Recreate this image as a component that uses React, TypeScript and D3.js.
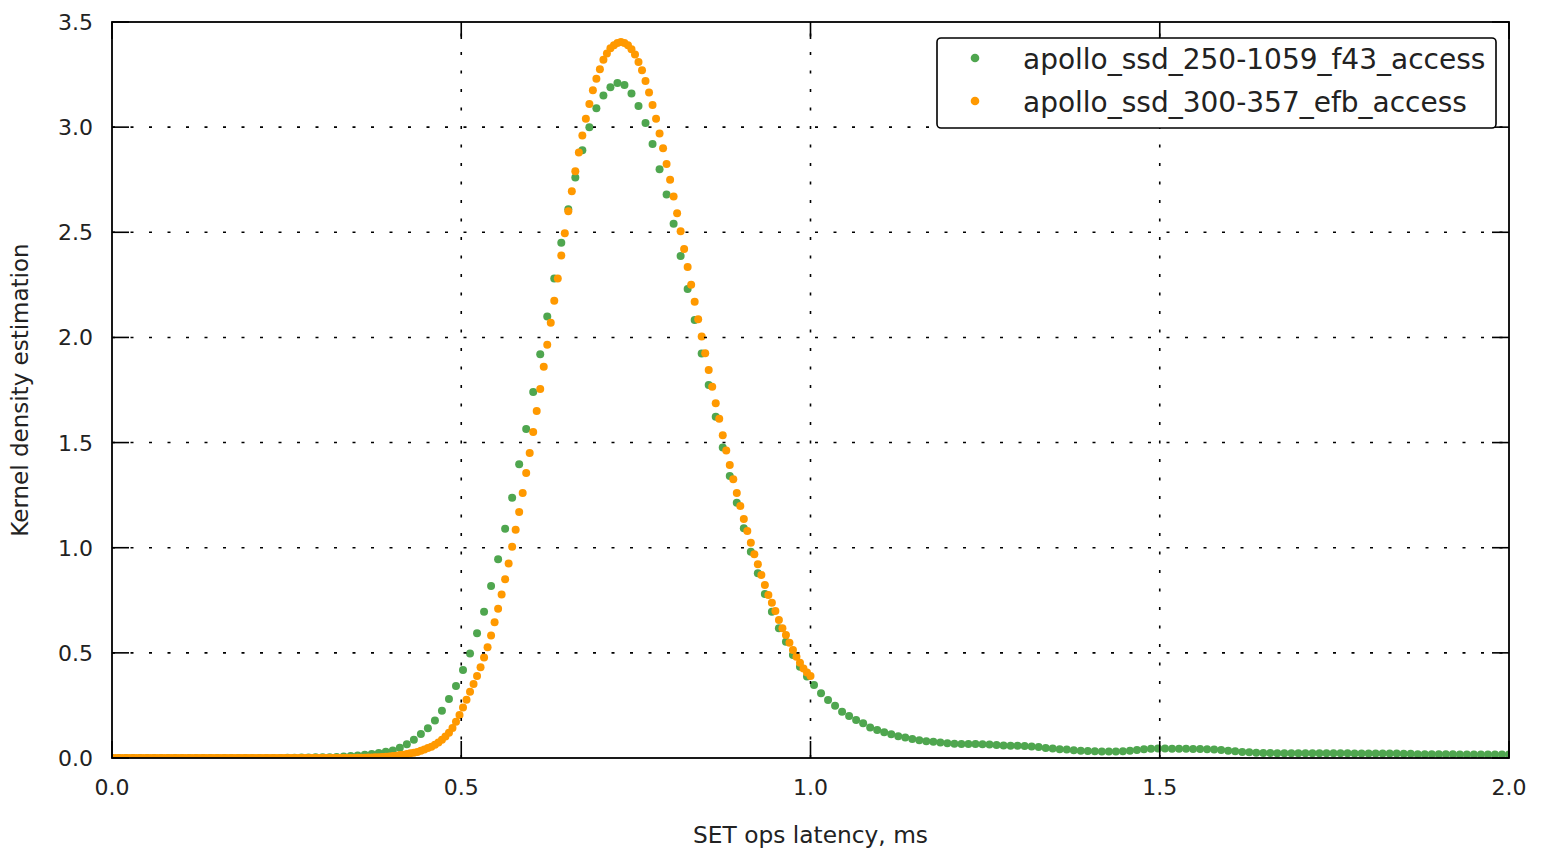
import React from "react";
import * as d3 from "d3";

// ---- data ----
const seriesNames = ["apollo_ssd_250-1059_f43_access", "apollo_ssd_300-357_efb_access"];
const seriesColors = ["#4fa64f", "#ff9900"];
// x grids: green on [0, 2.0], orange on [0, 1.0], 200 samples each
const greenXMax = 2.0;
const orangeXMax = 1.0;
const greenY = [
  0, 0, 0, 0, 0, 0, 0, 0, 0, 0,
  0, 0, 0, 0, 0, 0, 0, 0, 0, 0,
  0, 0, 0, 0, 0, 0.001, 0.001, 0.002, 0.002, 0.003,
  0.003, 0.004, 0.005, 0.007, 0.009, 0.012, 0.015, 0.019, 0.024, 0.03,
  0.036, 0.049, 0.065, 0.087, 0.114, 0.142, 0.178, 0.225, 0.28, 0.342,
  0.418, 0.497, 0.593, 0.696, 0.818, 0.945, 1.09, 1.238, 1.397, 1.565,
  1.74, 1.92, 2.1, 2.28, 2.45, 2.61, 2.76, 2.89, 3.0, 3.09,
  3.15, 3.19, 3.21, 3.2, 3.16, 3.1, 3.02, 2.92, 2.8, 2.68,
  2.54, 2.387, 2.23, 2.083, 1.924, 1.774, 1.623, 1.477, 1.341, 1.214,
  1.092, 0.981, 0.878, 0.78, 0.696, 0.617, 0.553, 0.49, 0.434, 0.387,
  0.347, 0.308, 0.276, 0.249, 0.22, 0.2, 0.181, 0.165, 0.145, 0.133,
  0.122, 0.113, 0.104, 0.097, 0.09, 0.084, 0.08, 0.077, 0.074, 0.07,
  0.068, 0.067, 0.066, 0.066, 0.065, 0.064, 0.062, 0.06, 0.058, 0.058,
  0.057, 0.055, 0.052, 0.048, 0.045, 0.042, 0.04, 0.037, 0.035, 0.033,
  0.032, 0.031, 0.031, 0.031, 0.032, 0.034, 0.038, 0.042, 0.044, 0.045,
  0.045, 0.044, 0.044, 0.044, 0.043, 0.043, 0.042, 0.041, 0.038, 0.035,
  0.032, 0.029, 0.027, 0.025, 0.024, 0.024, 0.023, 0.023, 0.023, 0.023,
  0.022, 0.022, 0.022, 0.022, 0.022, 0.022, 0.022, 0.021, 0.021, 0.021,
  0.021, 0.021, 0.021, 0.021, 0.02, 0.02, 0.018, 0.018, 0.018, 0.018,
  0.018, 0.018, 0.017, 0.017, 0.017, 0.017, 0.017, 0.017, 0.017, 0.017,
];
const orangeY = [
  0, 0, 0, 0, 0, 0, 0, 0, 0, 0,
  0, 0, 0, 0, 0, 0, 0, 0, 0, 0,
  0, 0, 0, 0, 0, 0, 0, 0, 0, 0,
  0, 0, 0, 0, 0, 0, 0, 0, 0, 0,
  0, 0, 0, 0, 0, 0, 0, 0, 0, 0,
  0, 0, 0, 0, 0, 0, 0, 0, 0, 0,
  0, 0, 0, 0, 0, 0, 0, 0, 0.0002, 0.0004,
  0.0006, 0.001, 0.0015, 0.002, 0.0025, 0.003, 0.004, 0.005, 0.006, 0.0075,
  0.009, 0.011, 0.014, 0.016, 0.019, 0.022, 0.025, 0.029, 0.034, 0.04,
  0.047, 0.054, 0.063, 0.074, 0.087, 0.102, 0.12, 0.143, 0.172, 0.205,
  0.24, 0.277, 0.315, 0.352, 0.39, 0.432, 0.478, 0.527, 0.582, 0.645,
  0.71, 0.778, 0.85, 0.925, 1.005, 1.085, 1.17, 1.26, 1.355, 1.45,
  1.55, 1.65, 1.755, 1.86, 1.965, 2.07, 2.175, 2.28, 2.39, 2.495,
  2.6, 2.695, 2.79, 2.88, 2.96, 3.04, 3.11, 3.175, 3.23, 3.275,
  3.32, 3.35, 3.375, 3.39, 3.4, 3.405, 3.4, 3.39, 3.37, 3.345,
  3.31, 3.27, 3.22, 3.165, 3.105, 3.04, 2.97, 2.9, 2.825, 2.75,
  2.67, 2.59, 2.505, 2.42, 2.335, 2.25, 2.17, 2.087, 2.004, 1.925,
  1.845, 1.766, 1.687, 1.613, 1.535, 1.462, 1.393, 1.325, 1.26, 1.198,
  1.136, 1.079, 1.024, 0.969, 0.921, 0.87, 0.823, 0.775, 0.738, 0.699,
  0.656, 0.617, 0.585, 0.548, 0.514, 0.482, 0.453, 0.426, 0.406, 0.39,
];
const xTicks = [0, 0.5, 1.0, 1.5, 2.0];
const yTicks = [0, 0.5, 1.0, 1.5, 2.0, 2.5, 3.0, 3.5];
const xLabel = "SET ops latency, ms";
const yLabel = "Kernel density estimation";

const W = 1547;
const H = 851;
const M = { left: 112, right: 1509, top: 22, bottom: 758 };
const FONT = "DejaVu Sans, sans-serif";
const TICK = 17;
const R = 4;

export default function App() {
  const x = d3.scaleLinear().domain([0, 2.0]).range([M.left, M.right]);
  const y = d3.scaleLinear().domain([0, 3.5]).range([M.bottom, M.top]);
  const fmt = d3.format(".1f");

  const greenPts = greenY.map((v, i) => [(i * greenXMax) / (greenY.length - 1), v]);
  const orangePts = orangeY.map((v, i) => [(i * orangeXMax) / (orangeY.length - 1), v]);

  const grid = { stroke: "#000", strokeWidth: 1.6, strokeDasharray: "3,15.5" };

  return (
    <svg
      width={W}
      height={H}
      style={{ position: "absolute", left: 0, top: 0, background: "#fff" }}
      fontFamily={FONT}
    >
      <defs>
        <clipPath id="plot">
          <rect x={M.left} y={M.top} width={M.right - M.left} height={M.bottom - M.top} />
        </clipPath>
      </defs>
      <rect x={0} y={0} width={W} height={H} fill="#fff" />
      <g clipPath="url(#plot)">
        {greenPts.map(([a, b], i) => (
          <circle key={"g" + i} cx={x(a)} cy={y(b)} r={R} fill={seriesColors[0]} />
        ))}
        {orangePts.map(([a, b], i) => (
          <circle key={"o" + i} cx={x(a)} cy={y(b)} r={R} fill={seriesColors[1]} />
        ))}
      </g>
      {/* grid */}
      {xTicks.slice(1, -1).map((t) => (
        <line key={"gx" + t} x1={x(t)} x2={x(t)} y1={M.bottom} y2={M.top} {...grid} />
      ))}
      {yTicks.slice(1, -1).map((t) => (
        <line key={"gy" + t} x1={M.left} x2={M.right} y1={y(t)} y2={y(t)} {...grid} />
      ))}
      {/* ticks */}
      {xTicks.map((t) => (
        <g key={"tx" + t}>
          <line x1={x(t)} x2={x(t)} y1={M.bottom} y2={M.bottom - TICK} stroke="#000" strokeWidth={1.6} />
          <line x1={x(t)} x2={x(t)} y1={M.top} y2={M.top + TICK} stroke="#000" strokeWidth={1.6} />
          <text x={x(t)} y={795} textAnchor="middle" fontSize={22} fill="#222">
            {fmt(t)}
          </text>
        </g>
      ))}
      {yTicks.map((t) => (
        <g key={"ty" + t}>
          <line x1={M.left} x2={M.left + TICK} y1={y(t)} y2={y(t)} stroke="#000" strokeWidth={1.6} />
          <line x1={M.right} x2={M.right - TICK} y1={y(t)} y2={y(t)} stroke="#000" strokeWidth={1.6} />
          <text x={93} y={y(t) + 8} textAnchor="end" fontSize={22} fill="#222">
            {fmt(t)}
          </text>
        </g>
      ))}
      {/* frame */}
      <rect
        x={M.left}
        y={M.top}
        width={M.right - M.left}
        height={M.bottom - M.top}
        fill="none"
        stroke="#000"
        strokeWidth={1.8}
      />
      {/* axis labels */}
      <text x={(M.left + M.right) / 2} y={843} textAnchor="middle" fontSize={23.3} fill="#222">
        {xLabel}
      </text>
      <text
        transform={`translate(28, ${(M.top + M.bottom) / 2}) rotate(-90)`}
        textAnchor="middle"
        fontSize={23}
        fill="#222"
      >
        {yLabel}
      </text>
      {/* legend */}
      <g>
        <rect x={937} y={38} width={559} height={90} rx={4} ry={4} fill="#fff" stroke="#000" strokeWidth={1.6} />
        {seriesNames.map((name, i) => (
          <g key={name}>
            <circle cx={975} cy={58 + i * 43} r={R + 0.3} fill={seriesColors[i]} />
            <text x={1023} y={69 + i * 43} fontSize={28} fill="#222">
              {name}
            </text>
          </g>
        ))}
      </g>
    </svg>
  );
}
